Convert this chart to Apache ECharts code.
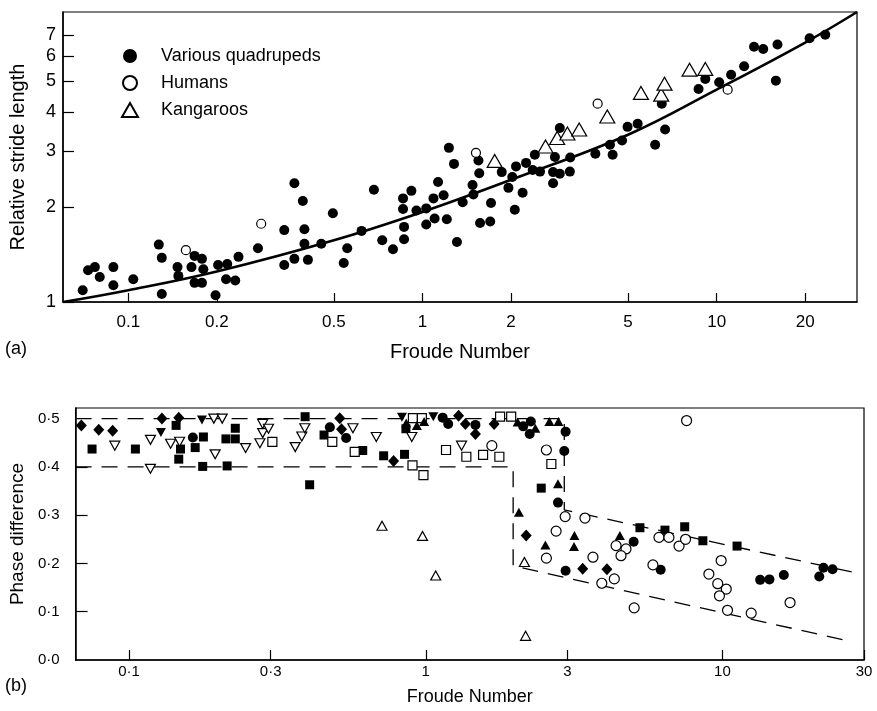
<!DOCTYPE html>
<html>
<head>
<meta charset="utf-8">
<script src="https://cdn.jsdelivr.net/npm/echarts@6/dist/echarts.min.js"></script>
<style>
html, body { margin: 0; padding: 0; background: #fff; }
#chart { width: 877px; height: 711px; }
</style>
</head>
<body>
<div id="chart"></div>
<script>
// ---- panel (a): relative stride length vs Froude number ----
var quadrupeds = [[0.070,1.09],[0.073,1.26],[0.077,1.29],[0.080,1.20],[0.089,1.29],[0.089,1.13],[0.104,1.18],
	[0.127,1.52],[0.130,1.38],[0.130,1.06],[0.147,1.29],[0.148,1.21],[0.164,1.29],[0.168,1.40],[0.178,1.37],
	[0.180,1.27],[0.168,1.15],[0.178,1.15],[0.198,1.05],[0.202,1.31],[0.217,1.32],[0.215,1.18],[0.231,1.17],
	[0.237,1.39],[0.276,1.48],[0.339,1.69],[0.367,2.38],[0.392,2.09],[0.397,1.70],[0.397,1.53],[0.367,1.37],
	[0.339,1.31],[0.408,1.36],[0.453,1.53],[0.496,1.91],[0.540,1.33],[0.555,1.48],[0.621,1.68],[0.684,2.27],
	[0.730,1.57],[0.794,1.47],[0.859,2.13],[0.859,1.97],[0.866,1.73],[0.866,1.58],[0.917,2.25],[0.954,1.95],
	[1.03,1.98],[1.03,1.76],[1.09,2.13],[1.10,1.84],[1.13,2.40],[1.18,2.18],[1.21,1.83],[1.23,3.08],[1.28,2.74],
	[1.31,1.55],[1.37,2.07],[1.48,2.35],[1.49,2.19],[1.55,2.81],[1.56,2.56],[1.57,1.78],[1.70,1.80],[1.71,2.06],
	[1.86,2.58],[1.96,2.30],[2.02,2.49],[2.06,1.96],[2.08,2.69],[2.19,2.22],[2.25,2.76],[2.37,2.62],[2.41,2.93],
	[2.51,2.59],[2.78,2.38],[2.78,2.58],[2.82,2.88],[2.93,3.56],[2.93,2.55],[3.17,2.59],[3.18,2.87],[3.87,2.95],
	[4.34,3.15],[4.43,2.93],[4.77,3.25],[4.98,3.59],[5.39,3.67],[6.18,3.15],[6.51,4.25],[6.68,3.52],[8.68,4.73],
	[9.15,5.09],[10.2,4.97],[11.2,5.25],[12.4,5.59],[13.4,6.44],[14.4,6.34],[16.1,6.55],[15.9,5.03],[20.7,6.85],
	[23.4,7.03]];
var humans = [[0.157,1.46],[0.283,1.77],[1.52,2.97],[3.94,4.25],[10.9,4.71]];
var kangaroos = [[1.76,2.80],[2.62,3.11],[2.87,3.31],[3.11,3.42],[3.41,3.52],[4.25,3.87],[5.53,4.60],
	[6.48,4.54],[6.65,4.92],[8.09,5.45],[9.15,5.48]];
var fitCurve = [[0.06,1.0],[0.1,1.09],[0.2,1.25],[0.5,1.57],[1,1.93],[2,2.44],[5,3.39],[10,4.71],[20,6.64],[30,8.3]];
var aTicksX = [0.1,0.2,0.5,1,2,5,10,20];
var aTicksY = [1,2,3,4,5,6,7];

// ---- panel (b): phase difference vs Froude number ----
var diamondFilled = [[0.069,0.486],[0.079,0.477],[0.088,0.475],[0.129,0.500],[0.147,0.502],[0.513,0.501],
	[0.520,0.478],[0.779,0.412],[1.29,0.506],[1.36,0.489],[1.47,0.468],[1.70,0.489],[2.18,0.258],[3.38,0.189],[4.08,0.188]];
var squareFilled = [[0.075,0.437],[0.105,0.437],[0.144,0.486],[0.149,0.437],[0.147,0.416],[0.167,0.440],
	[0.178,0.462],[0.177,0.401],[0.212,0.458],[0.228,0.480],[0.228,0.458],[0.214,0.402],[0.392,0.504],
	[0.454,0.466],[0.406,0.363],[0.613,0.434],[0.721,0.423],[0.848,0.426],[0.857,0.479],[2.45,0.356],
	[5.27,0.274],[6.40,0.269],[7.46,0.276],[8.59,0.247],[11.2,0.236]];
var triDownFilled = [[0.128,0.471],[0.176,0.497],[0.831,0.503],[1.06,0.504]];
var triDownOpen = [[0.0895,0.444],[0.118,0.456],[0.118,0.396],[0.138,0.448],[0.148,0.452],[0.195,0.426],
	[0.193,0.500],[0.206,0.500],[0.247,0.439],[0.276,0.449],[0.282,0.489],[0.282,0.470],[0.295,0.479],
	[0.363,0.441],[0.382,0.463],[0.391,0.480],[0.568,0.480],[0.681,0.462],[0.897,0.462],[1.32,0.444]];
var squareOpen = [[0.304,0.452],[0.484,0.452],[0.576,0.431],[0.905,0.501],[0.970,0.501],[0.902,0.403],
	[0.982,0.383],[1.17,0.435],[1.37,0.421],[1.56,0.425],[1.77,0.421],[1.78,0.504],[1.94,0.504],[2.65,0.406]];
var circleFilled = [[0.164,0.461],[0.475,0.482],[0.539,0.460],[1.14,0.502],[1.19,0.489],[1.47,0.487],
	[2.26,0.494],[2.13,0.484],[2.24,0.468],[2.96,0.473],[2.93,0.433],[2.79,0.326],[2.96,0.185],[5.02,0.245],
	[6.19,0.187],[13.4,0.166],[14.4,0.167],[16.1,0.176],[21.2,0.173],[21.9,0.191],[23.5,0.188]];
var triUpFilled = [[0.859,0.491],[0.933,0.486],[0.987,0.494],[2.04,0.493],[2.34,0.480],[2.61,0.494],
	[2.80,0.494],[2.79,0.365],[2.06,0.306],[2.53,0.238],[3.17,0.258],[3.16,0.235],[4.51,0.258]];
var circleOpen = [[1.67,0.444],[2.55,0.435],[2.95,0.297],[3.44,0.294],[2.75,0.267],[2.55,0.211],[3.66,0.213],
	[3.92,0.159],[4.32,0.168],[4.38,0.237],[4.73,0.230],[4.55,0.216],[5.04,0.108],[5.83,0.197],[6.11,0.254],
	[6.60,0.254],[7.14,0.236],[7.51,0.250],[7.57,0.496],[9.00,0.178],[9.90,0.206],[9.64,0.158],[10.3,0.147],
	[9.77,0.133],[10.4,0.103],[12.5,0.097],[16.9,0.119]];
var triUpOpen = [[0.712,0.278],[0.975,0.257],[1.08,0.175],[2.15,0.203],[2.17,0.050]];
var upperBound = [[0.066,0.50],[2.93,0.50],[2.93,0.311],[28.4,0.180]];
var lowerBound = [[0.066,0.40],[1.97,0.40],[1.97,0.195],[25.9,0.041]];
var bTicksX = [0.1,0.3,1,3,10,30];
var bTicksY = [0,0.1,0.2,0.3,0.4,0.5];

var FONT = "'Liberation Sans', Arial, sans-serif";
var NARROW = "'Liberation Sans Narrow', 'Liberation Sans', Arial, sans-serif";

function dotted(v) {
	return String(+v.toPrecision(2)).replace('.', '\u00b7');
}

function pts(name, data, idx, symbol, size, open, rotate) {
	return {
		name: name,
		type: 'scatter',
		xAxisIndex: idx,
		yAxisIndex: idx,
		data: data,
		symbol: symbol,
		symbolSize: size,
		symbolRotate: rotate || 0,
		itemStyle: open ? { color: '#fff', borderColor: '#000', borderWidth: 1.2, opacity: 1 }
			: { color: '#000', opacity: 1 },
		emphasis: { disabled: true },
		z: 3
	};
}

function dashed(name, data) {
	return {
		name: name,
		type: 'line',
		xAxisIndex: 1,
		yAxisIndex: 1,
		data: data,
		symbol: 'none',
		lineStyle: { color: '#000', width: 1.3, type: [16, 10] },
		z: 2
	};
}

var chart = echarts.init(document.getElementById('chart'));
chart.setOption({
	backgroundColor: '#fff',
	animation: false,
	textStyle: { fontFamily: FONT, color: '#000' },
	graphic: [
		{ type: 'text', left: 5, top: 340, style: { text: '(a)', fontSize: 18, fontFamily: FONT, fill: '#000' } },
		{ type: 'text', left: 5, top: 677, style: { text: '(b)', fontSize: 18, fontFamily: FONT, fill: '#000' } }
	],
	legend: {
		data: ['Various quadrupeds', 'Humans', 'Kangaroos'],
		orient: 'vertical',
		left: 116,
		top: 42,
		itemWidth: 16,
		itemHeight: 14,
		itemGap: 9,
		selectedMode: false,
		textStyle: { fontSize: 18, fontFamily: FONT, color: '#000', padding: [0, 0, 0, 18] }
	},
	grid: [
		{ left: 63, right: 20, top: 12, bottom: 409, show: true, borderColor: '#000', borderWidth: 1.2, containLabel: false },
		{ left: 73, right: 13, top: 408, bottom: 51, show: true, borderColor: '#000', borderWidth: 1.2, containLabel: false }
	],
	xAxis: [
		{
			type: 'log', gridIndex: 0, min: 0.06, max: 30,
			name: 'Froude Number', nameLocation: 'middle', nameGap: 40,
			nameTextStyle: { fontSize: 20, fontFamily: FONT, color: '#000' },
			axisLine: { lineStyle: { color: '#000', width: 1.5 } },
			axisTick: { inside: true, length: 9, customValues: aTicksX, lineStyle: { color: '#000', width: 1.2 } },
			axisLabel: { customValues: aTicksX, fontSize: 17, fontFamily: NARROW, color: '#000', margin: 12,
				formatter: function (v) { return String(+v.toPrecision(2)); } },
			splitLine: { show: false }
		},
		{
			type: 'log', gridIndex: 1, min: 0.066, max: 30,
			name: 'Froude Number', nameLocation: 'middle', nameGap: 28,
			nameTextStyle: { fontSize: 18, fontFamily: FONT, color: '#000' },
			axisLine: { lineStyle: { color: '#000', width: 1.5 } },
			axisTick: { inside: true, length: 10, customValues: bTicksX, lineStyle: { color: '#000', width: 1.2 } },
			axisLabel: { customValues: bTicksX, fontSize: 15, color: '#000', margin: 4, formatter: dotted },
			splitLine: { show: false }
		}
	],
	yAxis: [
		{
			type: 'log', gridIndex: 0, min: 1, max: 8.3,
			name: 'Relative stride length', nameLocation: 'middle', nameGap: 35,
			nameTextStyle: { fontSize: 20, fontFamily: FONT, color: '#000' },
			axisLine: { lineStyle: { color: '#000', width: 1.5 } },
			axisTick: { inside: true, length: 11, customValues: aTicksY, lineStyle: { color: '#000', width: 1.2 } },
			axisLabel: { customValues: aTicksY, fontSize: 18, fontFamily: NARROW, color: '#000', margin: 7,
				formatter: function (v) { return String(Math.round(v)); } },
			splitLine: { show: false }
		},
		{
			type: 'value', gridIndex: 1, min: 0, max: 0.522,
			name: 'Phase difference', nameLocation: 'middle', nameGap: 45,
			nameTextStyle: { fontSize: 19, fontFamily: FONT, color: '#000' },
			axisLine: { lineStyle: { color: '#000', width: 1.5 } },
			axisTick: { inside: true, length: 12, customValues: [0.1, 0.2, 0.3, 0.4], lineStyle: { color: '#000', width: 1.2 } },
			axisLabel: { customValues: bTicksY, fontSize: 15, color: '#000', margin: 16,
				formatter: function (v) { return v.toFixed(1).replace('.', '\u00b7'); } },
			splitLine: { show: false }
		}
	],
	series: [
		{
			name: 'fit', type: 'line', xAxisIndex: 0, yAxisIndex: 0, data: fitCurve,
			smooth: 0.4, symbol: 'none', lineStyle: { color: '#000', width: 2.6 }, z: 2
		},
		pts('Various quadrupeds', quadrupeds, 0, 'circle', 10, false),
		pts('Humans', humans, 0, 'circle', 9, true),
		pts('Kangaroos', kangaroos, 0, 'triangle', [15, 13], true),

		dashed('upper', upperBound),
		dashed('lower', lowerBound),
		pts('b diamond', diamondFilled, 1, 'diamond', [11, 12], false),
		pts('b square', squareFilled, 1, 'rect', 9, false),
		pts('b tri down', triDownFilled, 1, 'triangle', [10, 9], false, 180),
		pts('b tri down open', triDownOpen, 1, 'triangle', [10, 9], true, 180),
		pts('b square open', squareOpen, 1, 'rect', 9, true),
		pts('b circle', circleFilled, 1, 'circle', 10, false),
		pts('b tri up', triUpFilled, 1, 'triangle', [10, 9], false),
		pts('b circle open', circleOpen, 1, 'circle', 10, true),
		pts('b tri up open', triUpOpen, 1, 'triangle', [10, 9], true)
	]
});
</script>
</body>
</html>
